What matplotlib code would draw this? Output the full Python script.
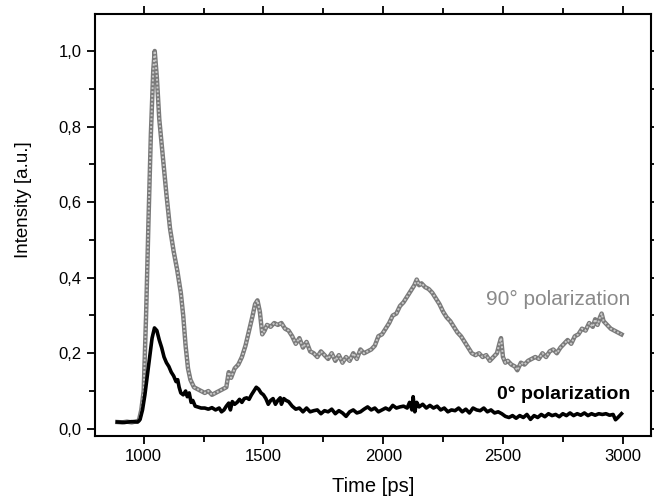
import numpy as np
import matplotlib.pyplot as plt
from matplotlib.ticker import MultipleLocator, FuncFormatter

# 90 deg polarization (time ps, intensity)
pol90 = [(890, 0.018), (910, 0.017), (930, 0.019), (950, 0.017), (970, 0.02), (980, 0.022),
         (990, 0.05), (1000, 0.1), (1010, 0.3), (1020, 0.55), (1030, 0.78), (1040, 0.95),
         (1046, 1.0), (1055, 0.93), (1065, 0.82), (1080, 0.72), (1095, 0.62), (1110, 0.53),
         (1125, 0.47), (1140, 0.42), (1155, 0.36), (1165, 0.3), (1175, 0.22), (1185, 0.16),
         (1195, 0.13), (1210, 0.11), (1225, 0.105), (1240, 0.1), (1255, 0.095), (1270, 0.1),
         (1285, 0.09), (1300, 0.095), (1315, 0.1), (1330, 0.105), (1345, 0.11), (1355, 0.15),
         (1365, 0.135), (1380, 0.16), (1395, 0.17), (1410, 0.19), (1425, 0.22), (1440, 0.26),
         (1455, 0.3), (1465, 0.33), (1475, 0.34), (1485, 0.31), (1495, 0.25), (1505, 0.26),
         (1515, 0.275), (1530, 0.27), (1545, 0.28), (1560, 0.275), (1575, 0.28), (1590, 0.265),
         (1605, 0.26), (1620, 0.245), (1635, 0.225), (1650, 0.24), (1665, 0.215), (1680, 0.23),
         (1695, 0.205), (1710, 0.2), (1725, 0.19), (1740, 0.205), (1755, 0.195), (1770, 0.185),
         (1785, 0.2), (1800, 0.18), (1815, 0.195), (1830, 0.175), (1845, 0.19), (1860, 0.18),
         (1875, 0.2), (1890, 0.185), (1905, 0.21), (1920, 0.2), (1935, 0.205), (1950, 0.21),
         (1965, 0.22), (1980, 0.245), (1995, 0.25), (2010, 0.265), (2025, 0.28), (2040, 0.3),
         (2055, 0.305), (2070, 0.325), (2085, 0.335), (2100, 0.35), (2115, 0.365), (2130, 0.38),
         (2140, 0.395), (2150, 0.38), (2160, 0.385), (2175, 0.375), (2190, 0.37), (2205, 0.36),
         (2220, 0.345), (2235, 0.33), (2250, 0.31), (2265, 0.295), (2280, 0.285), (2295, 0.27),
         (2310, 0.255), (2325, 0.245), (2340, 0.23), (2355, 0.215), (2370, 0.2), (2385, 0.195),
         (2400, 0.2), (2415, 0.19), (2430, 0.195), (2445, 0.18), (2460, 0.19), (2475, 0.2),
         (2485, 0.225), (2492, 0.24), (2500, 0.19), (2510, 0.175), (2520, 0.18), (2535, 0.17),
         (2550, 0.165), (2560, 0.155), (2575, 0.175), (2590, 0.17), (2605, 0.18), (2620, 0.185),
         (2635, 0.19), (2650, 0.185), (2665, 0.2), (2680, 0.19), (2695, 0.205), (2710, 0.21),
         (2725, 0.2), (2740, 0.215), (2755, 0.225), (2770, 0.235), (2785, 0.225), (2800, 0.245),
         (2815, 0.25), (2830, 0.265), (2845, 0.26), (2860, 0.28), (2875, 0.27), (2885, 0.29),
         (2895, 0.275), (2905, 0.295), (2912, 0.305), (2920, 0.285), (2935, 0.275), (2950, 0.265),
         (2965, 0.26), (2980, 0.255), (2995, 0.25)]

# 0 deg polarization
pol0 = [(890, 0.018), (920, 0.017), (950, 0.019), (975, 0.018), (985, 0.025), (995, 0.05),
        (1005, 0.09), (1015, 0.14), (1025, 0.19), (1035, 0.24), (1045, 0.267), (1055, 0.26),
        (1065, 0.235), (1075, 0.215), (1085, 0.19), (1095, 0.175), (1105, 0.165), (1115, 0.15),
        (1125, 0.14), (1135, 0.125), (1142, 0.13), (1148, 0.11), (1155, 0.095), (1165, 0.09),
        (1175, 0.1), (1182, 0.085), (1190, 0.095), (1198, 0.07), (1205, 0.075), (1215, 0.06),
        (1225, 0.058), (1240, 0.055), (1255, 0.055), (1270, 0.052), (1285, 0.056), (1300, 0.05),
        (1315, 0.055), (1325, 0.045), (1335, 0.05), (1345, 0.06), (1355, 0.068), (1362, 0.05),
        (1370, 0.072), (1380, 0.065), (1390, 0.07), (1400, 0.078), (1410, 0.07), (1420, 0.08),
        (1430, 0.082), (1440, 0.078), (1450, 0.09), (1460, 0.1), (1470, 0.11), (1480, 0.105),
        (1490, 0.095), (1500, 0.09), (1510, 0.08), (1520, 0.065), (1530, 0.075), (1540, 0.08),
        (1550, 0.065), (1560, 0.075), (1570, 0.082), (1575, 0.065), (1585, 0.08), (1595, 0.075),
        (1605, 0.072), (1620, 0.06), (1635, 0.052), (1650, 0.055), (1665, 0.045), (1680, 0.055),
        (1695, 0.045), (1710, 0.048), (1725, 0.05), (1740, 0.04), (1755, 0.048), (1770, 0.045),
        (1785, 0.052), (1800, 0.04), (1815, 0.048), (1830, 0.042), (1845, 0.033), (1860, 0.045),
        (1875, 0.05), (1890, 0.042), (1905, 0.045), (1920, 0.052), (1935, 0.058), (1950, 0.05),
        (1965, 0.055), (1980, 0.045), (1995, 0.05), (2010, 0.055), (2025, 0.05), (2040, 0.062),
        (2055, 0.055), (2070, 0.058), (2085, 0.06), (2100, 0.055), (2110, 0.07), (2120, 0.05),
        (2125, 0.085), (2132, 0.045), (2140, 0.07), (2150, 0.058), (2165, 0.065), (2180, 0.055),
        (2195, 0.062), (2210, 0.055), (2225, 0.06), (2240, 0.05), (2255, 0.055), (2270, 0.045),
        (2285, 0.05), (2300, 0.048), (2315, 0.055), (2330, 0.045), (2345, 0.052), (2360, 0.042),
        (2375, 0.055), (2390, 0.05), (2405, 0.048), (2420, 0.055), (2435, 0.045), (2450, 0.05),
        (2465, 0.042), (2480, 0.045), (2495, 0.04), (2510, 0.033), (2525, 0.03), (2540, 0.035),
        (2555, 0.028), (2570, 0.035), (2585, 0.03), (2600, 0.038), (2615, 0.025), (2630, 0.035),
        (2645, 0.03), (2660, 0.038), (2675, 0.032), (2690, 0.04), (2705, 0.035), (2720, 0.038),
        (2735, 0.032), (2750, 0.04), (2765, 0.035), (2780, 0.042), (2795, 0.035), (2810, 0.04),
        (2825, 0.036), (2840, 0.042), (2855, 0.035), (2870, 0.04), (2885, 0.036), (2900, 0.04),
        (2915, 0.038), (2930, 0.04), (2945, 0.036), (2960, 0.038), (2970, 0.024), (2980, 0.03),
        (2995, 0.04)]

x90, y90 = np.array(pol90).T
x0, y0 = np.array(pol0).T

plt.rcParams['font.family'] = ['Liberation Sans', 'DejaVu Sans']

fig = plt.figure(figsize=(6.54, 4.98), dpi=100)
ax = fig.add_axes([0.145, 0.1245, 0.85, 0.8475])

# gray line with a dotted texture
ax.plot(x90, y90, color='#7a7a7a', lw=3.2, solid_joinstyle='round')
ax.plot(x90, y90, color='#c8c8c8', lw=1.4, ls=(0, (1, 1)))
ax.plot(x0, y0, color='black', lw=2.6, solid_joinstyle='round')

ax.text(3033, 0.343, '90° polarization', color='#8a8a8a', fontsize=15,
        ha='right', va='center')
ax.text(3030, 0.09, '0° polarization', color='black', fontsize=14,
        fontweight='bold', ha='right', va='center')

ax.set_xlim(796, 3117)
ax.set_ylim(-0.019, 1.098)

ax.xaxis.set_major_locator(MultipleLocator(500))
ax.xaxis.set_minor_locator(MultipleLocator(250))
ax.yaxis.set_major_locator(MultipleLocator(0.2))
ax.yaxis.set_minor_locator(MultipleLocator(0.1))
ax.yaxis.set_major_formatter(FuncFormatter(lambda v, p: f'{v:.1f}'.replace('.', ',')))

ax.tick_params(which='both', direction='out', top=True, right=True, width=1.3,
               labelsize=12)
ax.tick_params(which='major', length=6)
ax.tick_params(which='minor', length=4)
for s in ax.spines.values():
    s.set_linewidth(1.5)

ax.set_xlabel('Time [ps]', fontsize=14.5, labelpad=9)
ax.set_ylabel('Intensity [a.u.]', fontsize=13.5)
ax.yaxis.set_label_coords(-0.113, 0.559)

fig.savefig('out.png', dpi=100)
